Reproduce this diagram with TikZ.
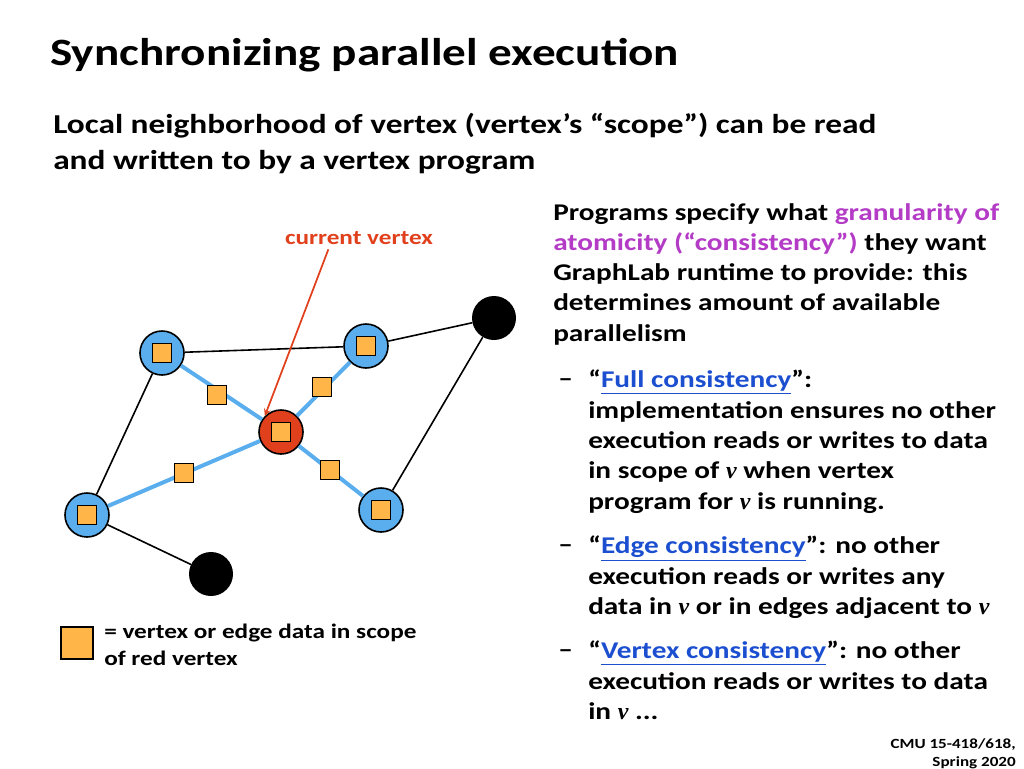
\documentclass[tikz,border=0pt]{standalone}
\usepackage{fontspec}
\setmainfont{Carlito}[FakeStretch=1.22]
\newfontfamily\serif{Liberation Serif}
\newcommand{\vv}{{\serif\itshape v}}
\definecolor{vblue}{HTML}{5AAEEE}
\definecolor{dorange}{HTML}{FFB547}
\definecolor{curred}{HTML}{E0401C}
\definecolor{gpurple}{HTML}{B33BC6}
\definecolor{lblue}{HTML}{1B4FD0}
\newcommand{\lnk}[1]{{\color{lblue}\underline{#1}}}
\begin{document}
\begin{tikzpicture}
[
x=0.75pt,y=-0.75pt,
vertex/.style={draw,circle,line width=1.2pt,fill=vblue,minimum size=44*0.75pt,inner sep=0pt},
other/.style={circle,fill=black,minimum size=44*0.75pt,inner sep=0pt},
datum/.style={draw,line width=0.8pt,fill=dorange,minimum size=19*0.75pt,inner sep=0pt},
gedge/.style={line width=1.2pt},
sedge/.style={line width=3pt,vblue},
txt/.style={anchor=north west,inner sep=0pt,align=left,font=\fontsize{18}{22.7}\selectfont\bfseries},
]
\useasboundingbox (0,0) rectangle (1024,768);

%Titles
\node[anchor=base west,inner sep=0pt,font=\fontsize{29}{34}\selectfont\bfseries] (title) at (50,65) {Synchronizing parallel execution};
\node[anchor=north west,inner sep=0pt,align=left,font=\fontsize{20.5}{27}\selectfont\bfseries] (sub) at (53,113)
  {Local neighborhood of vertex (vertex's ``scope'') can be read\\and written to by a vertex program};

%Place the nodes
\node[vertex] (a) at (162,353) {};
\node[vertex] (b) at (366,346) {};
\node[vertex] (c) at (87,515) {};
\node[vertex] (d) at (381,510) {};
\node[vertex,fill=curred] (r) at (281,432) {};
\node[other] (p) at (494,318) {};
\node[other] (q) at (211,574) {};

%Draw the connections
\draw[gedge] (a) -- (b);
\draw[gedge] (a) -- (c);
\draw[gedge] (b) -- (p);
\draw[gedge] (p) -- (d);
\draw[gedge] (c) -- (q);
\foreach \n in {a,b,c,d}
  \draw[sedge] (r) -- (\n);
\foreach \n in {a,b,c,d,r}
  \node[datum] at (\n) {};
\node[datum] (ea) at (217,395) {};
\node[datum] (eb) at (322,387) {};
\node[datum] (ec) at (184,473) {};
\node[datum] (ed) at (330,470) {};

%Current vertex label
\node[text=curred,font=\fontsize{15.5}{18}\selectfont\bfseries] (cur) at (359,238) {current vertex};
\draw[-stealth,curred,line width=1.3pt] (cur.south west) ++(48,0) coordinate (cs) -- (r.north west);

%Legend
\node[datum,minimum size=32*0.75pt] (leg) at (77,643) {};
\node[anchor=north west,inner sep=0pt,align=left,font=\fontsize{15.5}{20}\selectfont\bfseries] (legt) at (104,624)
  {= vertex or edge data in scope\\of red vertex};

%Right text
\node[txt] (prog) at (553,203) {Programs specify what {\color{gpurple}granularity of}\\{\color{gpurple}atomicity (``consistency'')} they want\\GraphLab runtime to provide: this\\determines amount of available\\parallelism};
\foreach \y in {380,546,651}
  \node[txt] at (558,\y-2) {--};
\node[txt] (full) at (588,370) {``\lnk{Full consistency}'':\\implementation ensures no other\\execution reads or writes to data\\in scope of \vv{} when vertex\\program for \vv{} is running.};
\node[txt] (edge) at (588,536) {``\lnk{Edge consistency}'': no other\\execution reads or writes any\\data in \vv{} or in edges adjacent to \vv};
\node[txt] (vert) at (588,641) {``\lnk{Vertex consistency}'': no other\\execution reads or writes to data\\in \vv{} ...};

%Footer
\node[anchor=north east,inner sep=0pt,align=right,font=\fontsize{10.5}{14}\selectfont\bfseries] (foot) at (1016,738) {CMU 15-418/618,\\Spring 2020};
\end{tikzpicture}
\end{document}
